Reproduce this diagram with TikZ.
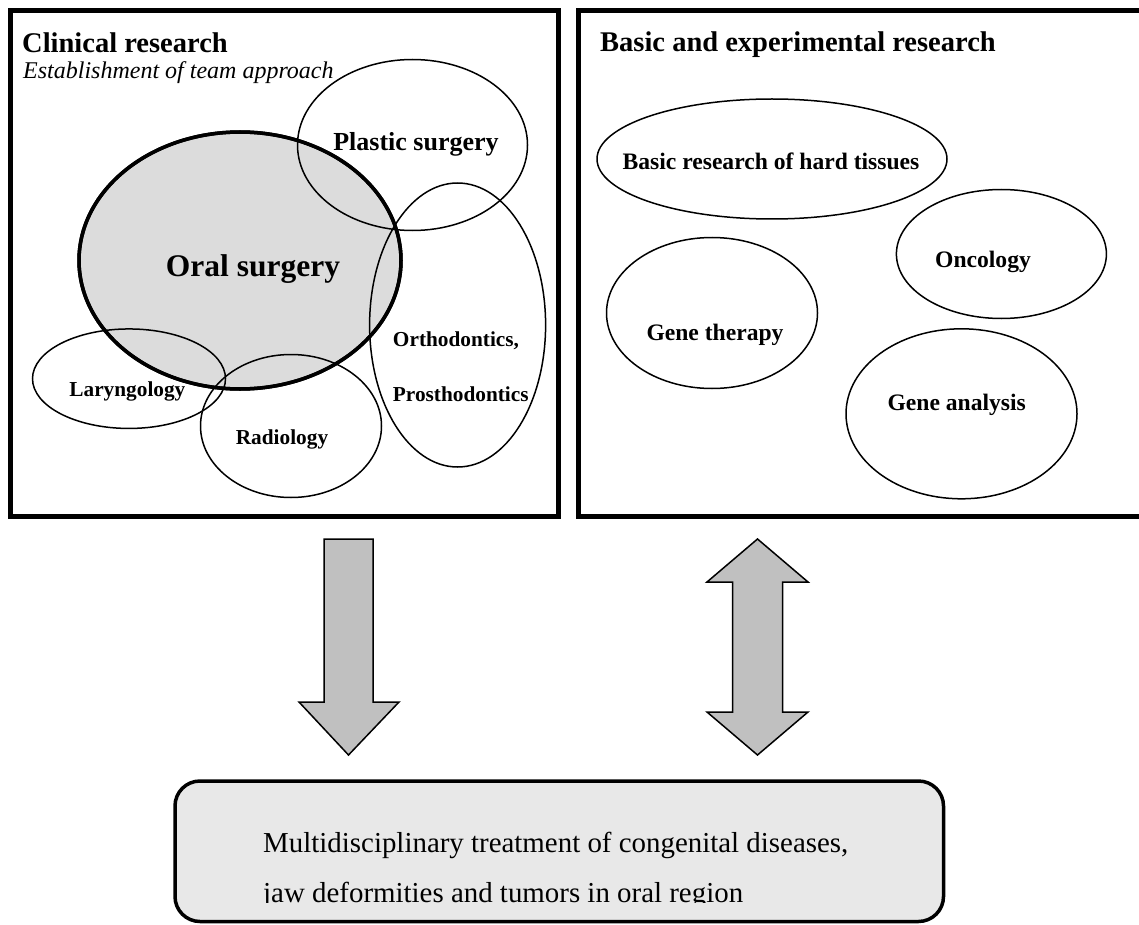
\documentclass[tikz,border=0pt]{standalone}
\usepackage{fontspec}
\setmainfont{Liberation Serif}
\usetikzlibrary{shapes.geometric}
\definecolor{oralgray}{HTML}{DCDCDC}
\definecolor{arrowgray}{HTML}{C0C0C0}
\definecolor{resultgray}{HTML}{E8E8E8}
\newcommand{\fsz}[1]{\fontsize{#1}{#1}\selectfont}
\tikzset{
  panel/.style={draw, line width=5pt},
  area/.style={ellipse, draw, line width=1.5pt, inner sep=0pt},
  mainarea/.style={ellipse, draw, line width=3.5pt, fill=oralgray, inner sep=0pt},
  title/.style={anchor=base west, inner sep=0pt, font=\bfseries\fsz{28.5}},
  subtitle/.style={anchor=base west, inner sep=0pt, font=\itshape\fsz{24}},
  small/.style={anchor=base, inner sep=0pt, font=\bfseries\fsz{21.3}},
  medium/.style={anchor=base, inner sep=0pt, font=\bfseries\fsz{23.6}},
  blockarrow/.style={draw, fill=arrowgray, line width=1.5pt, line join=miter},
  result/.style={draw, fill=resultgray, line width=3.5pt, rounded corners=25pt},
  body/.style={anchor=base west, inner sep=0pt, font=\fsz{28.9}},
}
\begin{document}
\begin{tikzpicture}[x=1pt, y=-1pt]
\useasboundingbox (0,0) rectangle (1139,925);

% ---- Clinical research panel ----
\draw[panel] (10.5,10.5) rectangle (558,516.5);
\node[title] (clin) at (22,53) {Clinical research};
\node[subtitle] (team) at (23,79) {Establishment of team approach};

\node[mainarea, minimum width=322pt, minimum height=257pt] (oral) at (240,260.5) {};
\node[area, minimum width=230pt, minimum height=171pt] (plastic) at (412.5,145) {};
\node[area, minimum width=176pt, minimum height=284pt] (ortho) at (457.6,325) {};
\node[area, minimum width=193pt, minimum height=99.5pt] (laryn) at (129,378.7) {};
\node[area, minimum width=181pt, minimum height=143pt] (radio) at (291,426) {};
% thick outline of the central field on top of the neighbours
\node[ellipse, draw, line width=3.5pt, inner sep=0pt, minimum width=322pt, minimum height=257pt] (oralrim) at (240,260.5) {};

\node[anchor=base, inner sep=0pt, font=\bfseries\fsz{31.5}] (oraltxt) at (253,276) {Oral surgery};
\node[anchor=base, inner sep=0pt, font=\bfseries\fsz{26}] (plastictxt) at (416,151) {Plastic surgery};
\node[small] (orthotxt) at (456,346) {Orthodontics,};
\node[small] (prosthtxt) at (460.8,401) {Prosthodontics};
\node[small] (laryntxt) at (127.4,396) {Laryngology};
\node[small] (radiotxt) at (282,444) {Radiology};

% ---- Basic and experimental research panel ----
\draw[panel] (578.5,10.5) rectangle (1150,516.5);
\node[title] (basic) at (600,52) {Basic and experimental research};

\node[area, minimum width=350pt, minimum height=120pt] (hard) at (772,159) {};
\node[area, minimum width=210pt, minimum height=129pt] (onco) at (1001.4,254) {};
\node[area, minimum width=211pt, minimum height=151pt] (genether) at (712,313) {};
\node[area, minimum width=231pt, minimum height=170pt] (geneana) at (961.5,413.8) {};

\node[medium] (hardtxt) at (771,170) {Basic research of hard tissues};
\node[medium] (oncotxt) at (983,267) {Oncology};
\node[medium] (genethertxt) at (715,340) {Gene therapy};
\node[medium] (geneanatxt) at (956.7,410.5) {Gene analysis};

% ---- Block arrows ----
\draw[blockarrow] (324,539) -- (373,539) -- (373,702) -- (399,702) -- (348.5,755)
  -- (299,702) -- (324,702) -- cycle;
\draw[blockarrow] (757.5,539) -- (808,582) -- (782.5,582) -- (782.5,712) -- (808,712)
  -- (757.5,755) -- (707,712) -- (732.5,712) -- (732.5,582) -- (707,582) -- cycle;

% ---- Outcome box ----
\draw[result] (175,781) rectangle (943.5,921.5);
\node[body] (out1) at (263,852) {Multidisciplinary treatment of congenital diseases,};
\begin{scope}
  \clip (180,860) rectangle (940,902.5);
  \node[body] (out2) at (263,902) {jaw deformities and tumors in oral region};
\end{scope}
\end{tikzpicture}
\end{document}
